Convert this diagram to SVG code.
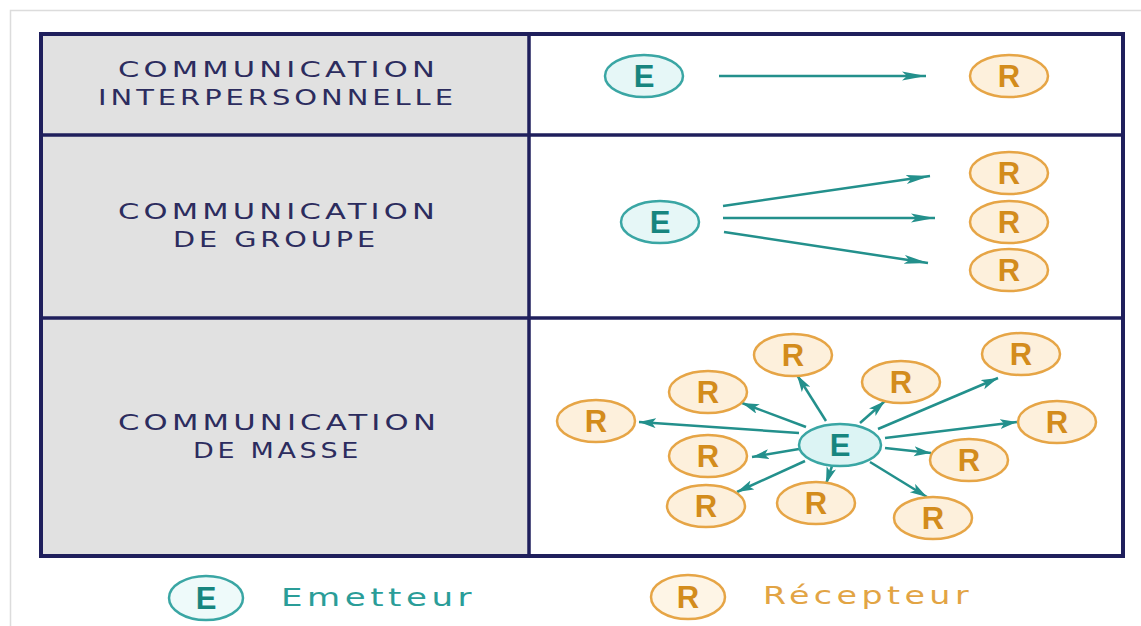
<svg xmlns="http://www.w3.org/2000/svg" width="1141" height="626" viewBox="0 0 1141 626">
<defs>
<style>
.lbl{font-family:"DejaVu Sans","Liberation Sans",sans-serif;font-size:22px;letter-spacing:3px;fill:#2c2c5e}
.e{fill:#e6f7f7;stroke:#3aa6a4;stroke-width:2.5}
.r{fill:#fdf0dc;stroke:#e6a546;stroke-width:2.5}
.et{font-family:"Liberation Sans",Arial,sans-serif;font-weight:bold;font-size:31px;fill:#17857f;text-anchor:middle}
.rt{font-family:"Liberation Sans",Arial,sans-serif;font-weight:bold;font-size:31px;fill:#d38c1c;text-anchor:middle}
.ar{stroke:#23908c;stroke-width:2.5;fill:none}
.leg{font-family:"DejaVu Sans Condensed","DejaVu Sans","Liberation Sans",sans-serif;font-size:25px;letter-spacing:3px}
</style>
<marker id="ah" markerUnits="userSpaceOnUse" markerWidth="26" markerHeight="12" refX="24" refY="5" orient="auto">
<path d="M0,0.5 L24,5 L0,9.5 L5,5 Z" fill="#23908c"/>
</marker>
<marker id="ah2" markerUnits="userSpaceOnUse" markerWidth="20" markerHeight="12" refX="17" refY="5" orient="auto">
<path d="M0,0 L17,5 L0,10 L4,5 Z" fill="#23908c"/>
</marker>
</defs>
<rect x="0" y="0" width="1141" height="626" fill="#ffffff"/>
<rect x="10.5" y="10.5" width="1140" height="630" fill="#ffffff" stroke="#dcdcdc" stroke-width="1.5"/>

<g id="table">
<rect x="41" y="34" width="488" height="522" fill="#e1e1e1"/>
<rect x="529" y="34" width="594" height="522" fill="#ffffff"/>
<rect x="41" y="34" width="1082" height="522" fill="none" stroke="#1f1f5c" stroke-width="4"/>
<line x1="529" y1="34" x2="529" y2="556" stroke="#1f1f5c" stroke-width="3.5"/>
<line x1="41" y1="135" x2="1123" y2="135" stroke="#1f1f5c" stroke-width="3.5"/>
<line x1="41" y1="318" x2="1123" y2="318" stroke="#1f1f5c" stroke-width="3.5"/>
</g>

<g id="label-interpersonnelle">
<text class="lbl" x="118" y="77" textLength="321" lengthAdjust="spacingAndGlyphs">COMMUNICATION</text>
<text class="lbl" x="98" y="105" textLength="359" lengthAdjust="spacingAndGlyphs">INTERPERSONNELLE</text>
</g>
<g id="label-groupe">
<text class="lbl" x="118" y="219" textLength="321" lengthAdjust="spacingAndGlyphs">COMMUNICATION</text>
<text class="lbl" x="173" y="247" textLength="206" lengthAdjust="spacingAndGlyphs">DE GROUPE</text>
</g>
<g id="label-masse">
<text class="lbl" x="118" y="430" textLength="322" lengthAdjust="spacingAndGlyphs">COMMUNICATION</text>
<text class="lbl" x="193" y="458" textLength="169" lengthAdjust="spacingAndGlyphs">DE MASSE</text>
</g>

<g id="connectors">
<line class="ar" x1="719" y1="76" x2="926" y2="76" marker-end="url(#ah)"/>
<line class="ar" x1="723" y1="206" x2="930" y2="176" marker-end="url(#ah)"/>
<line class="ar" x1="723" y1="218" x2="935" y2="218" marker-end="url(#ah)"/>
<line class="ar" x1="724" y1="232" x2="928" y2="263" marker-end="url(#ah)"/>

<line class="ar" x1="799" y1="433" x2="639" y2="422" marker-end="url(#ah2)"/>
<line class="ar" x1="806" y1="427" x2="742" y2="403" marker-end="url(#ah2)"/>
<line class="ar" x1="826" y1="421" x2="797" y2="375" marker-end="url(#ah2)"/>
<line class="ar" x1="860" y1="423" x2="885" y2="401" marker-end="url(#ah2)"/>
<line class="ar" x1="878" y1="429" x2="998" y2="378" marker-end="url(#ah2)"/>
<line class="ar" x1="885" y1="438" x2="1017" y2="422" marker-end="url(#ah2)"/>
<line class="ar" x1="885" y1="448" x2="931" y2="453" marker-end="url(#ah2)"/>
<line class="ar" x1="870" y1="462" x2="927" y2="497" marker-end="url(#ah2)"/>
<line class="ar" x1="832" y1="466" x2="826" y2="484" marker-end="url(#ah2)"/>
<line class="ar" x1="805" y1="461" x2="737" y2="492" marker-end="url(#ah2)"/>
<line class="ar" x1="799" y1="449" x2="752" y2="457" marker-end="url(#ah2)"/>
</g>

<g id="e-row1"><ellipse class="e" cx="644" cy="76" rx="39" ry="21"/><text class="et" x="644" y="87">E</text></g>
<g id="r-row1"><ellipse class="r" cx="1009" cy="76" rx="39" ry="21"/><text class="rt" x="1009" y="87">R</text></g>

<g id="e-row2"><ellipse class="e" cx="660" cy="222" rx="39" ry="21"/><text class="et" x="660" y="233">E</text></g>
<g id="r-row2a"><ellipse class="r" cx="1009" cy="173" rx="39" ry="21"/><text class="rt" x="1009" y="184">R</text></g>
<g id="r-row2b"><ellipse class="r" cx="1009" cy="222" rx="39" ry="21"/><text class="rt" x="1009" y="233">R</text></g>
<g id="r-row2c"><ellipse class="r" cx="1009" cy="270" rx="39" ry="21"/><text class="rt" x="1009" y="281">R</text></g>

<g id="e-row3"><ellipse class="e" cx="840" cy="445" rx="41" ry="21" style="fill:#dcf4f4"/><text class="et" x="840" y="456">E</text></g>
<g id="r3-1"><ellipse class="r" cx="793" cy="355" rx="39" ry="21"/><text class="rt" x="793" y="366">R</text></g>
<g id="r3-2"><ellipse class="r" cx="708" cy="392" rx="39" ry="21"/><text class="rt" x="708" y="403">R</text></g>
<g id="r3-3"><ellipse class="r" cx="596" cy="421" rx="39" ry="21"/><text class="rt" x="596" y="432">R</text></g>
<g id="r3-4"><ellipse class="r" cx="708" cy="456" rx="39" ry="21"/><text class="rt" x="708" y="467">R</text></g>
<g id="r3-5"><ellipse class="r" cx="706" cy="506" rx="39" ry="21"/><text class="rt" x="706" y="517">R</text></g>
<g id="r3-6"><ellipse class="r" cx="816" cy="503" rx="39" ry="21"/><text class="rt" x="816" y="514">R</text></g>
<g id="r3-7"><ellipse class="r" cx="933" cy="518" rx="39" ry="21"/><text class="rt" x="933" y="529">R</text></g>
<g id="r3-8"><ellipse class="r" cx="969" cy="460" rx="39" ry="21"/><text class="rt" x="969" y="471">R</text></g>
<g id="r3-9"><ellipse class="r" cx="1057" cy="422" rx="39" ry="21"/><text class="rt" x="1057" y="433">R</text></g>
<g id="r3-10"><ellipse class="r" cx="1021" cy="354" rx="39" ry="21"/><text class="rt" x="1021" y="365">R</text></g>
<g id="r3-11"><ellipse class="r" cx="901" cy="382" rx="39" ry="21"/><text class="rt" x="901" y="393">R</text></g>

<g id="legend-e">
<ellipse class="e" cx="206" cy="598" rx="37" ry="22" style="fill:#eefafa"/>
<text class="et" x="206" y="609">E</text>
<text class="leg" x="281" y="606" fill="#2a9d98" textLength="195" lengthAdjust="spacingAndGlyphs">Emetteur</text>
</g>
<g id="legend-r">
<ellipse class="r" cx="688" cy="597" rx="37" ry="22" style="fill:#fef5e6"/>
<text class="rt" x="688" y="608">R</text>
<text class="leg" x="763" y="604" fill="#e2a444" textLength="210" lengthAdjust="spacingAndGlyphs">Récepteur</text>
</g>
</svg>
